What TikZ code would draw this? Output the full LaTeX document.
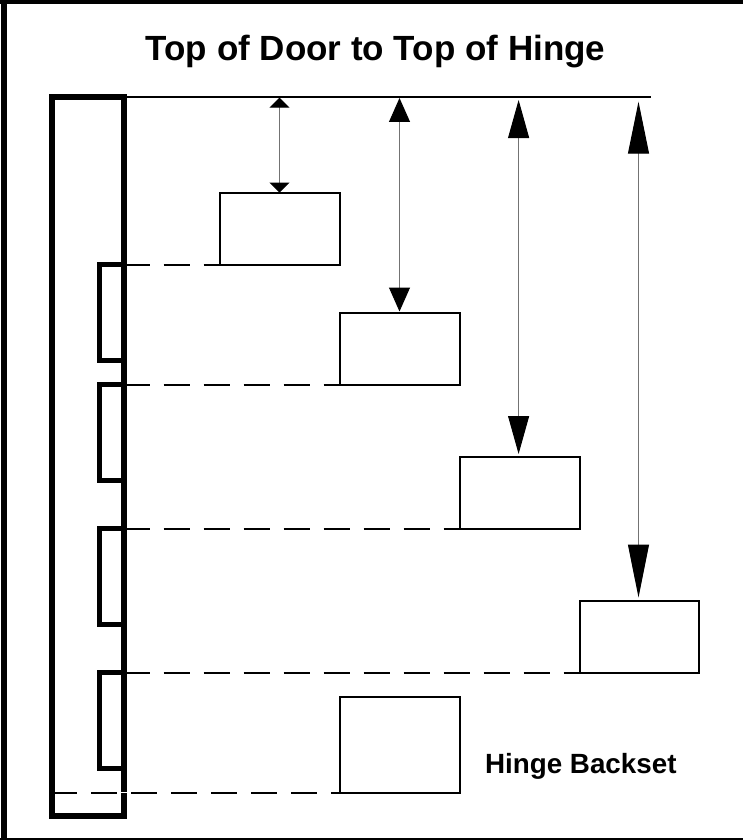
\documentclass[tikz,border=0pt]{standalone}
\usepackage{fontspec}
\setmainfont{Liberation Sans}
\usetikzlibrary{arrows.meta}
\tikzset{
  x=1pt,y=-1pt,
  doorbox/.style={draw=black,line width=6pt,fill=none,inner sep=0pt,outer sep=0pt,anchor=north west},
  hingebox/.style={draw=black,line width=2pt,fill=white,inner sep=0pt,outer sep=0pt,anchor=north west},
  thick mortise/.style={draw=black,line width=5.8pt,line join=miter},
  leader/.style={draw=black,line width=2pt,dash pattern=on 26pt off 14pt},
  dimline/.style={draw=black!55,line width=1pt},
  frameline/.style={fill=black,draw=none},
  lbl/.style={inner sep=0pt,outer sep=0pt,font=\bfseries}
}
\begin{document}
\begin{tikzpicture}
\useasboundingbox (0,0) rectangle (743,840);
\fill[white] (0,0) rectangle (743,840);
% page frame
\fill[frameline] (0,0) rectangle (743,4);
\fill[frameline] (1,0) rectangle (7,840);
\fill[frameline] (0,838) rectangle (743,840);
% title
\node[lbl,font=\bfseries\fontsize{35}{38}\selectfont,anchor=base] (title) at (375.5,61) {Top of Door to Top of Hinge};
% hinge boxes
\node[hingebox,minimum width=120pt,minimum height=72pt] (b1) at (219.5,192.5) {};
\node[hingebox,minimum width=120pt,minimum height=72pt] (b2) at (339.5,312.5) {};
\node[hingebox,minimum width=120pt,minimum height=72pt] (b3) at (459.5,456.5) {};
\node[hingebox,minimum width=119pt,minimum height=72pt] (b4) at (579.5,600.5) {};
\node[hingebox,minimum width=120pt,minimum height=96pt] (b5) at (339.5,696.5) {};
% door
\node[doorbox,minimum width=71.5pt,minimum height=719pt] (door) at (52,97) {};
% mortises
\draw[thick mortise] (123.5,264.5) -- (99.5,264.5) -- (99.5,360.5) -- (123.5,360.5);
\draw[thick mortise] (123.5,384.5) -- (99.5,384.5) -- (99.5,480.5) -- (123.5,480.5);
\draw[thick mortise] (123.5,528.5) -- (99.5,528.5) -- (99.5,624.5) -- (123.5,624.5);
\draw[thick mortise] (123.5,672.5) -- (99.5,672.5) -- (99.5,768.5) -- (123.5,768.5);
% top of door line
\coordinate (topend) at (651,96.7);
\draw[black,line width=2pt] (door.north east |- topend) -- (topend);
% leaders
\draw[leader] (door.east |- b1.south west) -- (b1.south west);
\draw[leader] (door.east |- b2.south west) -- (b2.south west);
\draw[leader] (door.east |- b3.south west) -- (b3.south west);
\draw[leader] (door.east |- b4.south west) -- (b4.south west);
\draw[white,line width=1.5pt] (door.west |- b5.south west) -- (b5.south west);
\draw[leader,dash phase=1pt] (door.west |- b5.south west) -- (b5.south west);
% dimension arrows
\coordinate (t1) at (279.5,97.7);
\coordinate (t2) at (399.5,98);
\coordinate (t3) at (518.6,100);
\coordinate (t4) at (638.5,101.7);
\draw[dimline,{Triangle[length=10pt,width=20pt,black]}-{Triangle[length=10pt,width=20pt,black]}] (t1) -- (t1 |- b1.north);
\draw[dimline,shorten >=1pt,{Triangle[length=24pt,width=21pt,black]}-{Triangle[length=24pt,width=21pt,black]}] (t2) -- (t2 |- b2.north);
\draw[dimline,shorten >=2.5pt,{Triangle[length=38pt,width=21pt,black]}-{Triangle[length=38pt,width=21pt,black]}] (t3) -- (t3 |- b3.north);
\draw[dimline,shorten >=3pt,{Triangle[length=52pt,width=21pt,black]}-{Triangle[length=53pt,width=21pt,black]}] (t4) -- (t4 |- b4.north);
% label
\node[lbl,font=\bfseries\fontsize{27.8}{30}\selectfont,anchor=base west] (lab) at (485,773.5) {Hinge Backset};
\end{tikzpicture}
\end{document}
